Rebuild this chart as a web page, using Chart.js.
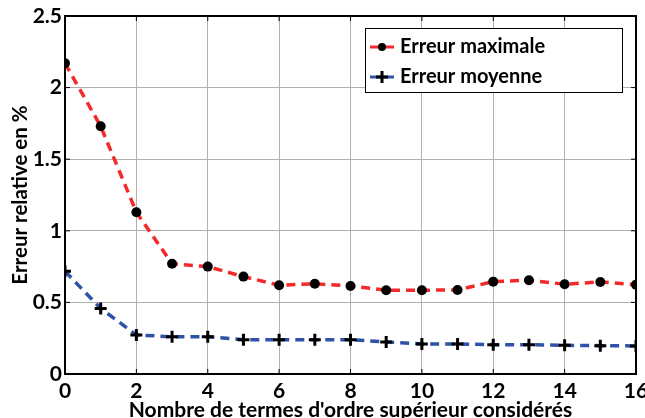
<!DOCTYPE html>
<html>
<head>
<meta charset="utf-8">
<script src="https://cdn.jsdelivr.net/npm/chart.js@4.4.1/dist/chart.umd.min.js"></script>
<style>
  html, body { margin: 0; padding: 0; background: #fff; }
  #wrap { width: 645px; height: 418px; }
</style>
</head>
<body>
<div id="wrap"><canvas id="myChart" width="645" height="418"></canvas></div>
<script>
// Nombre de termes d'ordre supérieur (axe x)
const termes = [0, 1, 2, 3, 4, 5, 6, 7, 8, 9, 10, 11, 12, 13, 14, 15, 16];
// Erreurs relatives en %
const erreurMax = [2.17, 1.73, 1.13, 0.77, 0.75, 0.68, 0.62, 0.63, 0.615, 0.585, 0.585, 0.587, 0.645, 0.655, 0.627, 0.643, 0.624];
const erreurMoy = [0.717, 0.458, 0.273, 0.26, 0.26, 0.24, 0.24, 0.24, 0.24, 0.224, 0.21, 0.21, 0.205, 0.205, 0.2, 0.198, 0.196];
const yTicks = [0, 0.5, 1, 1.5, 2, 2.5];

const police = "Lato, 'Open Sans', sans-serif";
const rouge = "#f42a2a";
const bleu = "#2f52a8";

function toPoints(vals) {
  return vals.map((v, i) => ({ x: termes[i], y: v }));
}

// cadre noir autour de la zone de tracé + petites graduations en haut et à droite
const cadre = {
  id: "cadre",
  afterDraw(chart) {
    const { ctx, chartArea: a, scales } = chart;
    ctx.save();
    ctx.strokeStyle = "#000";
    ctx.lineWidth = 2;
    ctx.strokeRect(a.left, a.top, a.right - a.left, a.bottom - a.top);
    ctx.lineWidth = 1;
    for (let t = 0; t <= 16; t += 2) {
      const px = scales.x.getPixelForValue(t);
      ctx.beginPath(); ctx.moveTo(px, a.top); ctx.lineTo(px, a.top + 5); ctx.stroke();
      ctx.beginPath(); ctx.moveTo(px, a.bottom); ctx.lineTo(px, a.bottom - 5); ctx.stroke();
    }
    yTicks.forEach(t => {
      const py = scales.y.getPixelForValue(t);
      ctx.beginPath(); ctx.moveTo(a.right, py); ctx.lineTo(a.right - 5, py); ctx.stroke();
      ctx.beginPath(); ctx.moveTo(a.left, py); ctx.lineTo(a.left + 5, py); ctx.stroke();
    });

    // légende encadrée
    const bx = 365, by = 28, bw = 257, bh = 64;
    ctx.fillStyle = "#fff";
    ctx.fillRect(bx, by, bw, bh);
    ctx.strokeStyle = "#000";
    ctx.lineWidth = 1;
    ctx.strokeRect(bx + 0.5, by + 0.5, bw, bh);
    const rows = [
      { y: 47, color: rouge, label: chart.data.datasets[0].label, marker: "dot" },
      { y: 77, color: bleu, label: chart.data.datasets[1].label, marker: "cross" }
    ];
    rows.forEach(r => {
      ctx.strokeStyle = r.color;
      ctx.lineWidth = 3;
      ctx.beginPath(); ctx.moveTo(370, r.y); ctx.lineTo(394, r.y); ctx.stroke();
      ctx.fillStyle = "#000";
      ctx.strokeStyle = "#000";
      if (r.marker === "dot") {
        ctx.beginPath(); ctx.arc(382, r.y, 4, 0, Math.PI * 2); ctx.fill();
      } else {
        ctx.lineWidth = 3;
        ctx.beginPath();
        ctx.moveTo(376, r.y); ctx.lineTo(388, r.y);
        ctx.moveTo(382, r.y - 6); ctx.lineTo(382, r.y + 6);
        ctx.stroke();
      }
      ctx.fillStyle = "#000";
      ctx.font = "bold 20px " + police;
      ctx.textBaseline = "middle";
      ctx.textAlign = "left";
      ctx.fillText(r.label, 400, r.y);
    });
    ctx.restore();
  }
};

const config = {
  type: "line",
  data: {
    datasets: [
      {
        label: "Erreur maximale",
        data: toPoints(erreurMax),
        borderColor: rouge,
        borderWidth: 3.5,
        borderDash: [9, 6],
        pointStyle: "circle",
        pointRadius: 5,
        pointBackgroundColor: "#000",
        pointBorderColor: "#000",
        pointBorderWidth: 0,
        tension: 0
      },
      {
        label: "Erreur moyenne",
        data: toPoints(erreurMoy),
        borderColor: bleu,
        borderWidth: 3.5,
        borderDash: [9, 6],
        pointStyle: "cross",
        pointRadius: 6,
        pointBorderColor: "#000",
        pointBorderWidth: 3,
        tension: 0
      }
    ]
  },
  options: {
    responsive: false,
    animation: false,
    layout: { padding: { top: 16, right: 8, left: 0, bottom: 0 } },
    plugins: {
      legend: { display: false },
      tooltip: { enabled: false }
    },
    scales: {
      x: {
        type: "linear",
        min: 0,
        max: 16,
        // le dernier libellé (16) déborde du bord droit
        afterFit: s => { s.height = 44; s.paddingLeft = 0; s.paddingRight = 0; },
        ticks: {
          stepSize: 2,
          color: "#000",
          padding: 5,
          font: { family: police, size: 21, weight: "bold" }
        },
        grid: { color: "#b0b0b0", lineWidth: 1, drawTicks: false },
        border: { color: "#000", width: 2 },
        title: {
          display: true,
          text: "Nombre de termes d'ordre supérieur considérés",
          color: "#000",
          padding: { top: 0, bottom: 0 },
          font: { family: police, size: 21, weight: "bold", lineHeight: 0.7 }
        }
      },
      y: {
        min: 0,
        max: 2.5,
        afterFit: s => { s.width = 65; s.paddingTop = 0; s.paddingBottom = 0; },
        afterBuildTicks: s => { s.ticks = yTicks.map(v => ({ value: v })); },
        ticks: {
          color: "#000",
          padding: 3,
          callback: v => String(v),
          font: { family: police, size: 21, weight: "bold" }
        },
        grid: { color: "#b0b0b0", lineWidth: 1, drawTicks: false },
        border: { color: "#000", width: 2 },
        title: {
          display: true,
          text: "Erreur relative en %",
          color: "#000",
          padding: { top: 8, bottom: 0 },
          font: { family: police, size: 20.5, weight: "bold" }
        }
      }
    }
  },
  plugins: [cadre]
};

const myChart = new Chart(document.getElementById("myChart"), config);
</script>
</body>
</html>
